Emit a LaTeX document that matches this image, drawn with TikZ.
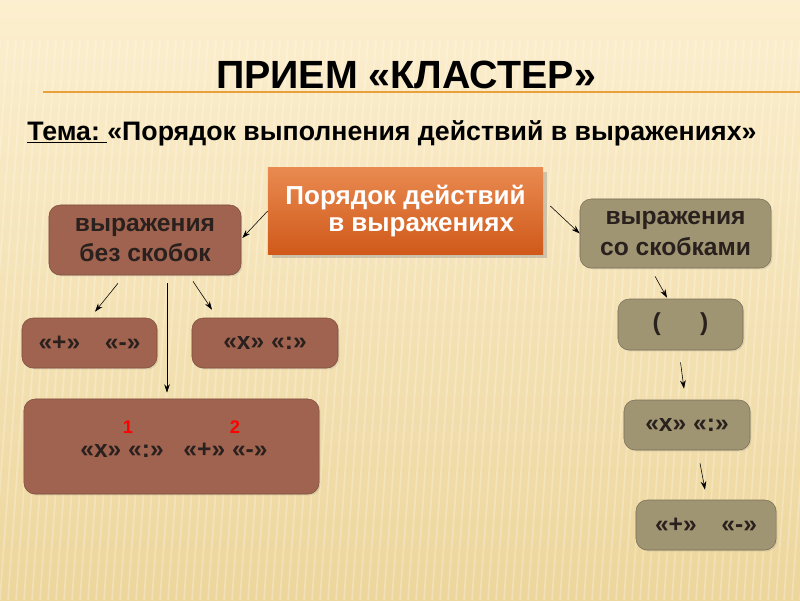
\documentclass[tikz,border=0pt]{standalone}
\usepackage{fontspec}
\setmainfont{Liberation Sans}
\usetikzlibrary{positioning, arrows.meta, calc, shadows}

\definecolor{bgtop}{HTML}{FCEFCF}
\definecolor{bgbot}{HTML}{EDD69C}
\definecolor{rule}{HTML}{E9A23B}
\definecolor{brownfill}{HTML}{A0634F}
\definecolor{browndraw}{HTML}{7E4E3E}
\definecolor{khakifill}{HTML}{A09572}
\definecolor{khakidraw}{HTML}{7A7058}
\definecolor{orangetop}{HTML}{E98A50}
\definecolor{orangebot}{HTML}{D0591A}
\definecolor{inktext}{HTML}{2A211E}

\begin{document}
\begin{tikzpicture}[
			x=0.025cm, y=-0.025cm,
			font=\bfseries,
			% Styles
			main/.style={rectangle, top color=orangetop, bottom color=orangebot, draw=none,
				minimum width=6.875cm, minimum height=2.15cm, align=center, text=white,
				font=\bfseries\fontsize{18.5}{19.5}\selectfont, drop shadow={opacity=0.35}},
			brownbox/.style={rectangle, rounded corners=8pt, fill=brownfill, draw=browndraw,
				align=center, text=inktext, drop shadow={opacity=0.2, shadow xshift=1pt, shadow yshift=-1pt}},
			khakibox/.style={brownbox, fill=khakifill, draw=khakidraw},
			boxtext/.style={font=\bfseries\fontsize{17.5}{21.5}\selectfont},
			link/.style={-{Stealth[length=6pt, width=4pt]}, thin, draw=black},
			order/.style={text=red, inner sep=0pt, font=\bfseries\fontsize{13}{15}\selectfont}
			]
			
			% --- Background ---
			\useasboundingbox (0,0) rectangle (800,600);
			\shade[top color=bgtop, bottom color=bgbot] (0,0) rectangle (800,600);
			\begin{scope}
				\clip (0,0) rectangle (800,600);
				\foreach \i in {-60,-52,...,820}
					\draw[white, opacity=0.25, line width=1.2pt] (\i+20,40) -- (\i-20,600);
			\end{scope}
			
			% --- Title ---
			\node[font=\bfseries\fontsize{28}{32}\selectfont, anchor=base] (title) at (406,88) {ПРИЕМ «КЛАСТЕР»};
			\draw[rule, line width=1.2pt] (43,92) coordinate (ruleL) -- (800,92) coordinate (ruleR);
			\node[font=\bfseries\fontsize{19}{21}\selectfont, anchor=base west, inner sep=0pt] (topic) at (27,140)
				{\underline{Тема:~}«Порядок выполнения действий в выражениях»};
			
			% --- Central node ---
			\node[main] (order) at (405.5,211) {Порядок действий\\\hspace*{1.2em}в выражениях};
			
			% --- Left branch ---
			\node[brownbox, boxtext, minimum width=4.8cm, minimum height=1.75cm] (nobr) at (145,240) {выражения\\без скобок};
			\node[brownbox, boxtext, minimum width=3.375cm, minimum height=1.25cm] (plusL) at (89.5,343) {«+»\hspace{1em}«-»};
			\node[brownbox, boxtext, minimum width=3.65cm, minimum height=1.25cm] (mulL) at (265,343) {«х» «:»};
			\node[brownbox, minimum width=7.375cm, minimum height=2.375cm] (all) at (171.5,446.5) {};
			\node[boxtext, text=inktext, inner sep=0pt] (alltext) at (174,450) {«х» «:»\hspace{0.8em}«+» «-»};
			\node[order] (one) at (128,427) {1};
			\node[order] (two) at (235,427) {2};
			
			% --- Right branch ---
			\node[khakibox, boxtext, minimum width=4.775cm, minimum height=1.725cm] (withbr) at (675.5,233.5) {выражения\\со скобками};
			\node[khakibox, boxtext, minimum width=3.125cm, minimum height=1.275cm] (par) at (680.5,324.5) {(\hspace{1.6em})};
			\node[khakibox, boxtext, minimum width=3.15cm, minimum height=1.25cm] (mulR) at (687,425) {«х» «:»};
			\node[khakibox, boxtext, minimum width=3.5cm, minimum height=1.25cm] (plusR) at (706,525) {«+»\hspace{1em}«-»};
			
			% --- Connectors ---
			\draw[link] (order.west) -- ($(nobr.east)+(1,-2)$);
			\draw[link] ($(order.east)+(7,-5)$) -- (withbr.west);
			\draw[link] ($(nobr.south)+(-27,8)$) -- ($(plusL.north)+(5.5,-6)$);
			\draw[link] ($(nobr.south)+(22,8)$) -- ($(all.north)+(-4.5,-6)$);
			\draw[link] ($(nobr.south)+(48,6)$) -- ($(mulL.north)+(-53,-8)$);
			\draw[link] ($(withbr.south)+(-20.5,8)$) -- ($(par.north)+(-13.5,-1)$);
			\draw[link] ($(par.south)+(0,12)$) -- ($(mulR.north)+(-3,-11)$);
			\draw[link] ($(mulR.south)+(13,13)$) -- ($(plusR.north)+(-1,-10)$);
			
		\end{tikzpicture}
\end{document}
